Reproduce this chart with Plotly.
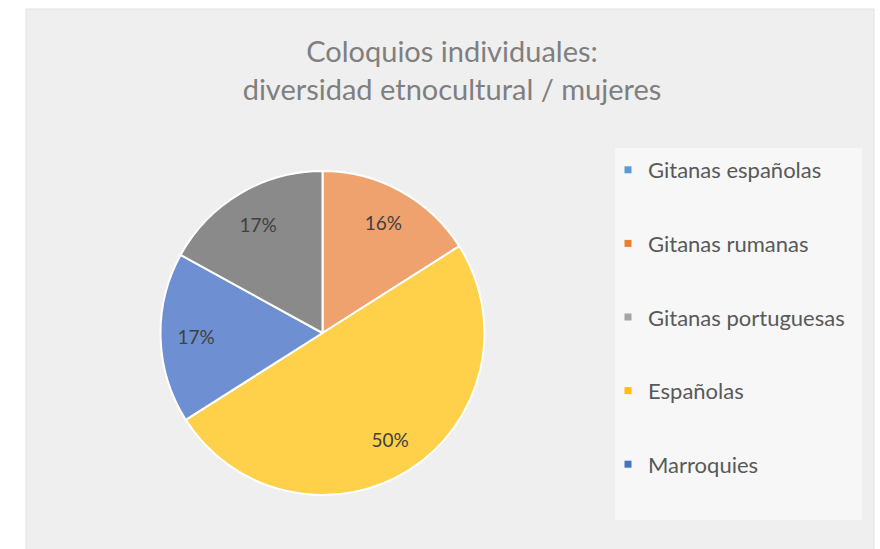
import plotly.graph_objects as go

# Data
slice_labels = ["Gitanas españolas", "Gitanas rumanas", "Españolas", "Marroquies", "Gitanas portuguesas"]
slice_values = [0, 16, 50, 17, 17]
slice_colors = ["#5B9BD5", "#F0A26E", "#FFD04A", "#6E90D3", "#8A8A8A"]

legend_labels = ["Gitanas españolas", "Gitanas rumanas", "Gitanas portuguesas", "Españolas", "Marroquies"]
legend_colors = ["#5B9BD5", "#ED7D31", "#A5A5A5", "#FFC000", "#4472C4"]

title_text = "Coloquios individuales:<br>diversidad etnocultural / mujeres"

W, H = 880, 549

pie_text = [f"{v}%" if v else "" for v in slice_values]
pie_domain = dict(x=[160 / W, 485 / W], y=[1 - 495 / H, 1 - 171 / H])

fig = go.Figure()
# Base pie: the coloured slices
fig.add_trace(go.Pie(
    labels=slice_labels,
    values=slice_values,
    textinfo="none",
    sort=False,
    direction="clockwise",
    rotation=0,
    marker=dict(colors=slice_colors, line=dict(color="white", width=2)),
    showlegend=False,
    hoverinfo="label+percent",
    domain=pie_domain,
))
# Transparent ring carrying the percentage labels further out
fig.add_trace(go.Pie(
    labels=slice_labels,
    values=slice_values,
    text=pie_text,
    textinfo="text",
    textposition="inside",
    insidetextorientation="horizontal",
    hole=0.56,
    sort=False,
    direction="clockwise",
    rotation=0,
    marker=dict(colors=["rgba(0,0,0,0)"] * len(slice_values), line=dict(width=0)),
    textfont=dict(family="Lato, sans-serif", size=19, color="#404040"),
    showlegend=False,
    hoverinfo="skip",
    domain=pie_domain,
))

for i, (lab, col) in enumerate(zip(legend_labels, legend_colors)):
    fig.add_trace(go.Scatter(
        x=[None], y=[None], mode="markers", name=lab,
        marker=dict(symbol="square", size=7, color=col),
        legendgroup=f"g{i}", showlegend=True,
    ))

fig.update_layout(
    width=W, height=H,
    margin=dict(l=0, r=0, t=0, b=0),
    paper_bgcolor="white",
    plot_bgcolor="rgba(0,0,0,0)",
    xaxis=dict(visible=False),
    yaxis=dict(visible=False),
    title=dict(
        text=title_text,
        x=452 / W, xanchor="center",
        y=1 - 62 / H, yanchor="top",
        font=dict(family="Lato, sans-serif", size=29, color="#7F7F7F"),
    ),
    legend=dict(
        x=608 / W, xanchor="left",
        y=1 - 149 / H, yanchor="top",
        bgcolor="rgba(0,0,0,0)",
        font=dict(family="Lato, sans-serif", size=22, color="#595959"),
        tracegroupgap=42,
        itemwidth=30,
    ),
    shapes=[
        dict(type="rect", xref="paper", yref="paper",
             x0=26 / W, x1=874 / W, y0=-0.01, y1=1 - 9 / H,
             fillcolor="#EFEFEF", line=dict(color="#E2E2E2", width=1), layer="below"),
        dict(type="rect", xref="paper", yref="paper",
             x0=615 / W, x1=862 / W, y0=1 - 520 / H, y1=1 - 148 / H,
             fillcolor="#F7F7F7", line=dict(width=0), layer="below"),
    ],
)

fig.write_html("out.html", config={"displayModeBar": False},
               post_script="document.body.style.margin='0px';")
